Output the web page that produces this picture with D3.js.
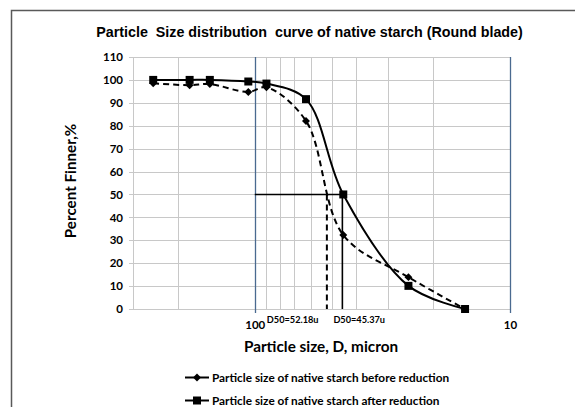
<!DOCTYPE html>
<html>
<head>
<meta charset="utf-8">
<script src="https://cdn.jsdelivr.net/npm/d3@7"></script>
<style>
  body { margin: 0; background: #fff; }
  svg { display: block; }
</style>
</head>
<body>
<div id="container"></div>
<script>
// sieve sizes (micron) and percent finer
const sizes = [250, 180, 150, 106, 90, 63, 45, 25, 15];
const beforeValues = [98.5, 97.7, 98.2, 94.7, 96.8, 82.1, 32.3, 13.9, 0];
const afterValues = [100, 100, 100, 99.3, 98.4, 91.6, 50, 10.1, 0];
const d50Before = 52.18;
const d50After = 45.37;
const yTicks = [0, 10, 20, 30, 40, 50, 60, 70, 80, 90, 100, 110];
const xMajorTicks = [100, 10];
const xMinorTicks = [300, 200, 90, 80, 70, 60, 50, 40, 30, 20];
const legendLabels = [
  'Particle size of native starch before reduction',
  'Particle size of native starch after reduction',
];

const width = 575;
const height = 407;
const bodyFont = 'Lato, "Open Sans", sans-serif';

const svg = d3
  .select('#container')
  .append('svg')
  .attr('width', width)
  .attr('height', height);

// outer chart border (runs off the picture on right and bottom)
svg
  .append('rect')
  .attr('x', 11.5)
  .attr('y', 10.5)
  .attr('width', 700)
  .attr('height', 500)
  .attr('fill', 'none')
  .attr('stroke', '#595959')
  .attr('stroke-width', 1.5);

const x = d3.scaleLog().domain([300, 10]).range([133, 510]);
const y = d3.scaleLinear().domain([0, 110]).range([309, 57]);

// grid
const grid = svg.append('g').attr('stroke', '#c8c8c8').attr('stroke-width', 1);
grid
  .selectAll('.hgrid')
  .data(yTicks)
  .enter()
  .append('line')
  .attr('x1', 129)
  .attr('x2', x(10))
  .attr('y1', d => Math.round(y(d)) + 0.5)
  .attr('y2', d => Math.round(y(d)) + 0.5);

grid
  .selectAll('.vgrid')
  .data(xMinorTicks)
  .enter()
  .append('line')
  .attr('x1', d => Math.round(x(d)) + 0.5)
  .attr('x2', d => Math.round(x(d)) + 0.5)
  .attr('y1', y(110))
  .attr('y2', y(0));

// major log lines (blue)
svg
  .append('g')
  .selectAll('line')
  .data(xMajorTicks)
  .enter()
  .append('line')
  .attr('x1', d => Math.round(x(d)) + 0.5)
  .attr('x2', d => Math.round(x(d)) + 0.5)
  .attr('y1', y(110))
  .attr('y2', y(0) + 4)
  .attr('stroke', '#4a6a90')
  .attr('stroke-width', 1.3);

// y axis labels
const yAxis = svg
  .append('g')
  .attr('transform', 'translate(129,0)')
  .call(d3.axisLeft(y).tickValues(yTicks).tickSize(0).tickPadding(6));
yAxis.select('.domain').remove();
yAxis
  .selectAll('text')
  .attr('font-family', bodyFont)
  .attr('font-weight', 'bold')
  .attr('font-size', '11.5px')
  .attr('fill', '#000');

// x axis labels
const xAxis = svg
  .append('g')
  .attr('transform', `translate(0,${y(0)})`)
  .call(d3.axisBottom(x).tickValues(xMajorTicks).tickFormat(d3.format('d')).tickSize(0).tickPadding(12));
xAxis.select('.domain').remove();
xAxis
  .selectAll('text')
  .attr('font-family', bodyFont)
  .attr('font-weight', 'bold')
  .attr('font-size', '11.5px')
  .attr('fill', '#000');

// D50 guide lines
svg
  .append('line')
  .attr('x1', x(100))
  .attr('x2', x(d50After))
  .attr('y1', y(50))
  .attr('y2', y(50))
  .attr('stroke', '#000')
  .attr('stroke-width', 1.6);
svg
  .append('line')
  .attr('x1', x(d50After))
  .attr('x2', x(d50After))
  .attr('y1', y(50))
  .attr('y2', y(0))
  .attr('stroke', '#000')
  .attr('stroke-width', 1.6);
svg
  .append('line')
  .attr('x1', x(d50Before))
  .attr('x2', x(d50Before))
  .attr('y1', y(50))
  .attr('y2', y(0))
  .attr('stroke', '#000')
  .attr('stroke-width', 2)
  .attr('stroke-dasharray', '6,4');

// curves
const line = d3
  .line()
  .x(d => x(d[0]))
  .y(d => y(d[1]))
  .curve(d3.curveCatmullRom.alpha(0.5));

const beforeData = sizes.map((s, i) => [s, beforeValues[i]]);
const afterData = sizes.map((s, i) => [s, afterValues[i]]);

svg
  .append('path')
  .datum(beforeData)
  .attr('d', line)
  .attr('fill', 'none')
  .attr('stroke', '#000')
  .attr('stroke-width', 2)
  .attr('stroke-dasharray', '6,4');

svg
  .append('path')
  .datum(afterData)
  .attr('d', line)
  .attr('fill', 'none')
  .attr('stroke', '#000')
  .attr('stroke-width', 2);

const diamond = d3.symbol().type(d3.symbolDiamond2).size(40);
const square = d3.symbol().type(d3.symbolSquare).size(64);

svg
  .selectAll('.before')
  .data(beforeData)
  .enter()
  .append('path')
  .attr('transform', d => `translate(${x(d[0])},${y(d[1])})`)
  .attr('d', diamond)
  .attr('fill', '#000');

svg
  .selectAll('.after')
  .data(afterData)
  .enter()
  .append('path')
  .attr('transform', d => `translate(${x(d[0])},${y(d[1])})`)
  .attr('d', square)
  .attr('fill', '#000');

// D50 labels
svg
  .selectAll('.d50')
  .data([d50Before, d50After])
  .enter()
  .append('text')
  .attr('x', (d, i) => (i === 0 ? x(d) - 60 : x(d) - 9))
  .attr('y', 323)
  .attr('font-family', bodyFont)
  .attr('font-weight', 'bold')
  .attr('font-size', '9.2px')
  .text(d => `D50=${d}u`);

// titles
svg
  .append('text')
  .attr('x', 309.5)
  .attr('y', 37)
  .attr('text-anchor', 'middle')
  .attr('font-family', '"Liberation Sans", Arial, sans-serif')
  .attr('font-weight', 'bold')
  .attr('font-size', '14.3px')
  .attr('xml:space', 'preserve')
  .style('white-space', 'pre')
  .text('Particle  Size distribution  curve of native starch (Round blade)');

svg
  .append('text')
  .attr('x', 321)
  .attr('y', 352)
  .attr('text-anchor', 'middle')
  .attr('font-family', bodyFont)
  .attr('font-weight', 'bold')
  .attr('font-size', '15.3px')
  .text('Particle size, D, micron');

svg
  .append('text')
  .attr('transform', 'translate(76,181) rotate(-90)')
  .attr('text-anchor', 'middle')
  .attr('font-family', bodyFont)
  .attr('font-weight', 'bold')
  .attr('font-size', '15.2px')
  .text('Percent Finner,%');

// legend
const legend = svg
  .selectAll('.legend')
  .data(legendLabels)
  .enter()
  .append('g')
  .attr('transform', (d, i) => `translate(185,${377.5 + i * 23})`);

legend
  .append('line')
  .attr('x1', 0)
  .attr('x2', 24)
  .attr('stroke', '#000')
  .attr('stroke-width', 2);

legend
  .append('path')
  .attr('transform', 'translate(12,0)')
  .attr('d', (d, i) => (i === 0 ? diamond() : square()))
  .attr('fill', '#000');

legend
  .append('text')
  .attr('x', 27)
  .attr('dy', '0.35em')
  .attr('font-family', bodyFont)
  .attr('font-weight', 'bold')
  .attr('font-size', '11.8px')
  .text(d => d);
</script>
</body>
</html>
